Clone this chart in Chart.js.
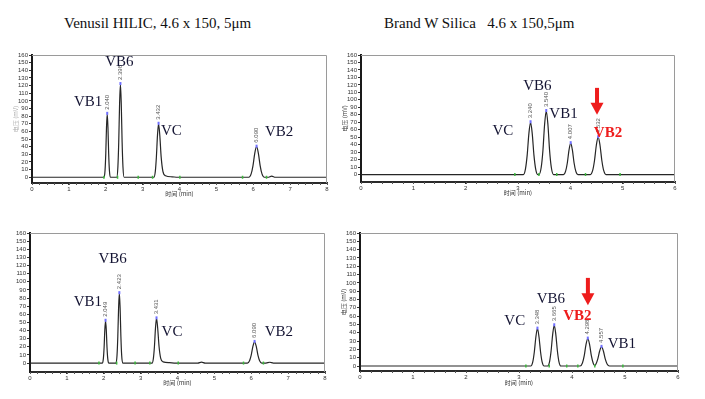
<!DOCTYPE html>
<html>
<head>
<meta charset="utf-8">
<script src="https://cdn.jsdelivr.net/npm/chart.js@4.4.1/dist/chart.umd.min.js"></script>
<style>
  body { margin: 0; background: #fff; width: 705px; height: 399px; overflow: hidden; position: relative; font-family: "Liberation Serif", serif; }
  canvas { position: absolute; }
  .title { position: absolute; font-size: 15px; color: #111; white-space: pre; line-height: 1; }
</style>
</head>
<body>
<div class="title" style="left:64px;top:16px">Venusil HILIC, 4.6 x 150, 5μm</div>
<div class="title" style="left:384px;top:16px">Brand W Silica   4.6 x 150,5μm</div>
<canvas id="tl"></canvas>
<canvas id="tr"></canvas>
<canvas id="bl"></canvas>
<canvas id="br"></canvas>
<script>
// tick labels
const yTicks = [0, 10, 20, 30, 40, 50, 60, 70, 80, 90, 100, 110, 120, 130, 140, 150, 160];
const xTicksHilic = [0, 1, 2, 3, 4, 5, 6, 7, 8];
const xTicksSilica = [0, 1, 2, 3, 4, 5, 6];

// --- Venusil HILIC, run 1 (top left) ---
const tlTime = [0, 1.956, 1.981, 2.001, 2.020, 2.040, 2.060, 2.079, 2.099, 2.124,
  2.299, 2.329, 2.352, 2.375, 2.398, 2.421, 2.444, 2.467, 2.497,
  3.306, 3.344, 3.373, 3.403, 3.432, 3.466, 3.503, 3.550, 3.621, 3.800, 3.950,
  5.880, 5.943, 5.992, 6.041, 6.090, 6.139, 6.188, 6.237, 6.300, 6.400, 6.500, 6.600, 8];
const tlSignal = [0, 0, 9.1, 31.1, 65.0, 83, 65.0, 31.1, 9.1, 0,
  0, 13.4, 45.8, 95.5, 122, 95.5, 45.8, 13.4, 0,
  0, 7.7, 26.3, 54.8, 70, 54.6, 26.3, 7.7, 2.0, 0.6, 0,
  0, 4.4, 15.0, 31.3, 40, 31.3, 15.0, 4.4, 0, 0, 1.5, 0, 0];
const tlNames = ['VB1', 'VB6', 'VC', 'VB2'];
const tlPeakTime = [2.040, 2.398, 3.432, 6.090];
const tlPeakHeight = [83, 122, 70, 40];
const tlMarks = [1.95, 2.32, 2.88, 3.27, 4.01, 5.71, 6.36];

// --- Brand W Silica, run 1 (top right) ---
const trTime = [0, 3.102, 3.143, 3.176, 3.208, 3.240, 3.272, 3.304, 3.337, 3.378,
  3.402, 3.443, 3.476, 3.508, 3.540, 3.572, 3.604, 3.637, 3.678,
  3.869, 3.910, 3.943, 3.975, 4.007, 4.039, 4.071, 4.104, 4.145,
  4.382, 4.427, 4.462, 4.497, 4.532, 4.567, 4.602, 4.637, 4.682, 6];
const trSignal = [0, 0, 7.7, 26.3, 54.8, 70, 54.8, 26.3, 7.7, 0,
  0, 9.4, 31.9, 66.6, 85, 66.6, 31.9, 9.4, 0,
  0, 4.6, 15.8, 32.9, 42, 32.9, 15.8, 4.6, 0,
  0, 5.5, 18.8, 39.2, 50, 39.2, 18.8, 5.5, 0, 0];
const trNames = ['VC', 'VB6', 'VB1', 'VB2'];
const trPeakTime = [3.240, 3.540, 4.007, 4.532];
const trPeakHeight = [70, 85, 42, 50];
const trMarks = [2.94, 3.40, 3.74, 4.29, 4.95];

// --- Venusil HILIC, run 2 (bottom left) ---
const blTime = [0, 1.965, 1.990, 2.010, 2.029, 2.049, 2.069, 2.088, 2.108, 2.133,
  2.333, 2.360, 2.381, 2.402, 2.423, 2.444, 2.465, 2.486, 2.513,
  3.311, 3.347, 3.375, 3.403, 3.431, 3.463, 3.499, 3.543, 3.611, 3.780, 3.950,
  4.550, 4.650, 4.750,
  5.895, 5.954, 5.999, 6.045, 6.090, 6.136, 6.181, 6.227, 6.285, 6.400, 6.500, 6.600, 8];
const blSignal = [0, 0, 5.7, 19.5, 40.7, 52, 40.7, 19.5, 5.7, 0,
  0, 9.5, 32.3, 67.3, 86, 67.3, 32.3, 9.5, 0,
  0, 6.1, 20.6, 43.1, 55, 42.9, 20.6, 6.1, 1.5, 0.5, 0,
  0, 1.2, 0,
  0, 2.9, 9.8, 20.4, 26, 20.4, 9.8, 2.9, 0, 0, 1.0, 0, 0];
const blNames = ['VB1', 'VB6', 'VC', 'VB2'];
const blPeakTime = [2.049, 2.423, 3.431, 6.090];
const blPeakHeight = [52, 86, 55, 26];
const blMarks = [1.87, 2.35, 2.85, 3.25, 4.02, 5.79, 6.33];

// --- Brand W Silica, run 2 (bottom right) ---
const brTime = [0, 3.222, 3.260, 3.289, 3.319, 3.348, 3.377, 3.407, 3.436, 3.474,
  3.539, 3.577, 3.606, 3.636, 3.665, 3.694, 3.724, 3.753, 3.791,
  4.154, 4.197, 4.231, 4.264, 4.298, 4.332, 4.365, 4.399, 4.428,
  4.452, 4.487, 4.522, 4.557, 4.592, 4.627, 4.662, 4.707, 6];
const brSignal = [0, 0, 5.0, 16.9, 35.2, 45, 35.2, 16.9, 5.0, 0,
  0, 5.4, 18.4, 38.4, 49, 38.4, 18.4, 5.4, 0,
  0, 3.6, 12.4, 25.8, 33, 25.8, 12.4, 3.6, 0.5,
  2.5, 8.6, 18.0, 23, 18.0, 8.6, 2.5, 0, 0];
const brNames = ['VC', 'VB6', 'VB2', 'VB1'];
const brPeakTime = [3.348, 3.665, 4.298, 4.557];
const brPeakHeight = [45, 49, 33, 23];
const brMarks = [3.13, 3.57, 3.90, 4.11, 4.43, 4.96];

// where the peak names sit (data coordinates: time, signal)
const tlLabelAt = { t: [1.52, 2.37, 3.78, 6.70], v: [98.6, 151, 60.6, 59.3] };
const trLabelAt = { t: [2.71, 3.37, 3.87, 4.72], v: [58, 118.4, 80.9, 55.4] };
const blLabelAt = { t: [1.57, 2.24, 3.85, 6.75], v: [75.3, 128, 38.5, 38.5] };
const brLabelAt = { t: [2.92, 3.60, 4.10, 4.94], v: [54, 80.6, 60, 26.5] };

// Draws the frame, integration marks, apex labels, names and the red arrow
const decor = {
  id: 'decor',
  afterDatasetsDraw(chart, args, o) {
    const { ctx, chartArea: a, scales: { x, y } } = chart;
    ctx.save();
    ctx.strokeStyle = '#9a9a9a';
    ctx.lineWidth = 1;
    ctx.beginPath();
    ctx.moveTo(a.left, a.top + 0.5);
    ctx.lineTo(a.right - 0.5, a.top + 0.5);
    ctx.lineTo(a.right - 0.5, a.bottom);
    ctx.stroke();

    // minor ticks under the time axis
    ctx.strokeStyle = '#555';
    for (let v = 0; v <= x.max + 1e-9; v += 0.2) {
      const px = Math.round(x.getPixelForValue(v)) + 0.5;
      ctx.beginPath();
      ctx.moveTo(px, a.bottom);
      ctx.lineTo(px, a.bottom + 2);
      ctx.stroke();
    }

    const y0 = y.getPixelForValue(0);
    ctx.strokeStyle = '#3cb83c';
    ctx.lineWidth = 1.5;
    o.marks.forEach(t => {
      const px = x.getPixelForValue(t);
      ctx.beginPath();
      ctx.moveTo(px, y0 - 1.5);
      ctx.lineTo(px, y0 + 1.5);
      ctx.stroke();
    });

    o.peakT.forEach((t, i) => {
      const px = x.getPixelForValue(t), py = y.getPixelForValue(o.peakV[i]);
      ctx.fillStyle = '#7070ff';
      ctx.fillRect(px - 1, py - 2, 2, 3);
      ctx.save();
      ctx.translate(px, py - 4);
      ctx.rotate(-Math.PI / 2);
      ctx.fillStyle = '#555';
      ctx.font = '6px "Liberation Sans"';
      ctx.textAlign = 'left';
      ctx.textBaseline = 'middle';
      ctx.fillText(t.toFixed(3), 0, 0);
      ctx.restore();
    });

    ctx.textAlign = 'center';
    ctx.textBaseline = 'middle';
    o.names.forEach((n, i) => {
      const isRed = o.red === n;
      ctx.font = (isRed ? 'bold ' : '') + '15px "Liberation Serif"';
      ctx.fillStyle = isRed ? '#ee1c1c' : '#141433';
      ctx.fillText(n, x.getPixelForValue(o.labelT[i]), y.getPixelForValue(o.labelV[i]));
    });

    if (o.arrow) {
      const ax = x.getPixelForValue(o.arrow[0]);
      const top = y.getPixelForValue(o.arrow[1]), bot = y.getPixelForValue(o.arrow[2]);
      ctx.fillStyle = '#ee1c1c';
      ctx.fillRect(ax - 2, top, 4, bot - top - 11);
      ctx.beginPath();
      ctx.moveTo(ax - 6.5, bot - 12);
      ctx.lineTo(ax + 6.5, bot - 12);
      ctx.lineTo(ax, bot);
      ctx.closePath();
      ctx.fill();
    }
    ctx.restore();
  }
};

function panel(id, box, p) {
  const cv = document.getElementById(id);
  const w = box.R - box.L + 28, h = box.B - box.T + 5 + box.H;
  cv.width = w; cv.height = h;
  cv.style.left = (box.L - 20) + 'px';
  cv.style.top = (box.T - 5) + 'px';
  cv.style.width = w + 'px';
  cv.style.height = h + 'px';

  return new Chart(cv, {
    type: 'line',
    data: {
      datasets: [{
        data: p.time.map((t, i) => ({ x: t, y: p.signal[i] })),
        borderColor: '#262626',
        borderWidth: 1.2,
        pointRadius: 0,
        cubicInterpolationMode: 'monotone',
        fill: false
      }]
    },
    options: {
      responsive: false,
      animation: false,
      devicePixelRatio: 1,
      layout: { padding: { top: 5, right: 8, left: 0, bottom: 0 } },
      plugins: {
        legend: { display: false },
        tooltip: { enabled: false },
        decor: {
          names: p.names, labelT: p.labelAt.t, labelV: p.labelAt.v,
          peakT: p.peakT, peakV: p.peakV, marks: p.marks, red: p.red, arrow: p.arrow
        }
      },
      scales: {
        x: {
          type: 'linear',
          min: 0,
          max: p.xTicks[p.xTicks.length - 1],
          afterBuildTicks: ax => { ax.ticks = p.xTicks.map(v => ({ value: v })); },
          afterFit: s => { s.height = box.H; },
          ticks: { font: { size: 6, family: 'Liberation Sans' }, color: '#333', padding: 1, maxRotation: 0, autoSkip: false },
          grid: { drawOnChartArea: false, tickLength: 2, tickColor: '#333' },
          border: { color: '#2a2a2a', width: 2 },
          title: { display: true, text: '时间 (min)', font: { size: 6, family: 'Noto Sans CJK SC' }, color: '#333', padding: 0 }
        },
        y: {
          min: p.yMin,
          max: 160,
          afterBuildTicks: ax => { ax.ticks = yTicks.map(v => ({ value: v })); },
          afterFit: s => { s.width = 20; },
          ticks: { font: { size: 6, family: 'Liberation Sans' }, color: '#333', padding: 1, autoSkip: false },
          grid: { drawOnChartArea: false, tickLength: 3, tickColor: '#333' },
          border: { color: '#1a1a1a', width: 2 },
          title: { display: !!p.yTitleColor, text: '电压 (mV)', font: { size: 6, family: 'Noto Sans CJK SC' }, color: p.yTitleColor || '#555', padding: 0 }
        }
      }
    },
    plugins: [decor]
  });
}

document.addEventListener('DOMContentLoaded', () => {
  panel('tl', { L: 32, R: 327, T: 55, B: 183, H: 14 }, {
    time: tlTime, signal: tlSignal, names: tlNames, labelAt: tlLabelAt,
    peakT: tlPeakTime, peakV: tlPeakHeight, marks: tlMarks, xTicks: xTicksHilic, yMin: -7.5, yTitleColor: '#b0b0b0'
  });
  panel('tr', { L: 361, R: 675, T: 55, B: 182, H: 14 }, {
    time: trTime, signal: trSignal, names: trNames, labelAt: trLabelAt,
    peakT: trPeakTime, peakV: trPeakHeight, marks: trMarks, xTicks: xTicksSilica, yMin: -10,
    yTitleColor: '#444', red: 'VB2', arrow: [4.51, 116, 80]
  });
  panel('bl', { L: 30, R: 325, T: 233, B: 372, H: 14 }, {
    time: blTime, signal: blSignal, names: blNames, labelAt: blLabelAt,
    peakT: blPeakTime, peakV: blPeakHeight, marks: blMarks, xTicks: xTicksHilic, yMin: -11
  });
  panel('br', { L: 360, R: 678, T: 233, B: 371, H: 15 }, {
    time: brTime, signal: brSignal, names: brNames, labelAt: brLabelAt,
    peakT: brPeakTime, peakV: brPeakHeight, marks: brMarks, xTicks: xTicksSilica, yMin: -6,
    yTitleColor: '#444', red: 'VB2', arrow: [4.30, 106, 73]
  });
});
</script>
</body>
</html>
